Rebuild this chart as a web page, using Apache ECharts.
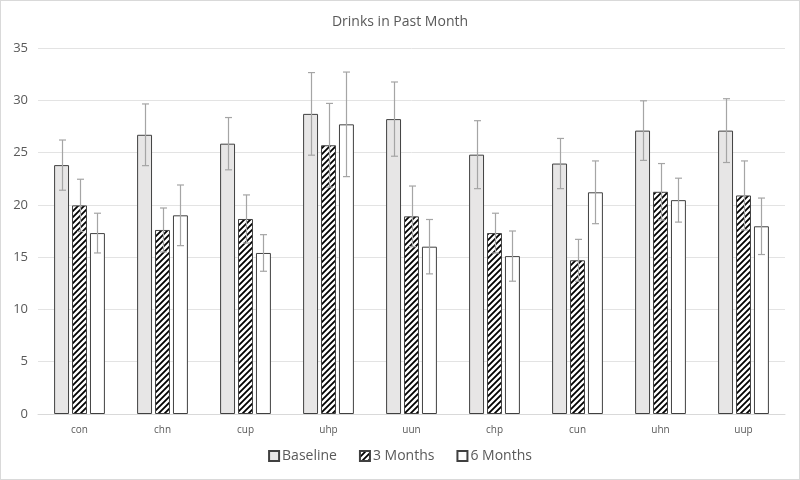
<!DOCTYPE html>
<html><head><meta charset="utf-8">
<script src="https://cdn.jsdelivr.net/npm/echarts@6/dist/echarts.min.js"></script>
<style>html,body{margin:0;padding:0;background:#fff}#c{width:800px;height:480px;box-sizing:border-box;border:1px solid #d9d9d9}</style>
</head><body><div id="c"></div>
<script>
const categories = ['con','chn','cup','uhp','uun','chp','cun','uhn','uup'];
const seriesNames = ['Baseline','3 Months','6 Months'];
const baseline = [23.8, 26.7, 25.85, 28.7, 28.2, 24.8, 23.95, 27.1, 27.1];
const baselineErr = [2.4, 2.95, 2.5, 3.95, 3.55, 3.25, 2.4, 2.85, 3.05];
const month3 = [19.95, 17.6, 18.65, 25.7, 18.9, 17.3, 14.7, 21.25, 20.9];
const month3Err = [2.5, 2.1, 2.3, 4.0, 2.9, 1.9, 2.0, 2.7, 3.3];
const month6 = [17.3, 19.0, 15.4, 27.7, 16.0, 15.1, 21.2, 20.45, 17.95];
const month6Err = [1.9, 2.9, 1.75, 5.0, 2.6, 2.4, 3.0, 2.1, 2.7];
const yTicks = [0,5,10,15,20,25,30,35];

function hatch(){
  const s = 6, c = document.createElement('canvas');
  c.width = s; c.height = s;
  const g = c.getContext('2d');
  g.fillStyle = '#fff'; g.fillRect(0,0,s,s);
  g.strokeStyle = '#000'; g.lineWidth = 1.8;
  g.beginPath();
  g.moveTo(0,s); g.lineTo(s,0);
  g.moveTo(-s/2,s/2); g.lineTo(s/2,-s/2);
  g.moveTo(s/2,s*1.5); g.lineTo(s*1.5,s/2);
  g.stroke();
  return c;
}

const font = 'Open Sans, sans-serif';
const barW = 0.18;
const offsets = [-1.2*barW, 0, 1.2*barW];
const vals = [baseline, month3, month6];
const errs = [baselineErr, month3Err, month6Err];
const fills = ['#e7e6e6', {image: hatch(), repeat: 'repeat'}, '#ffffff'];

const series = [];
vals.forEach((v,k)=>{
  series.push({
    name: seriesNames[k], type: 'bar', data: v,
    barWidth: (barW*100)+'%', barGap: '20%',
    itemStyle: {color: fills[k], borderColor: '#404040', borderWidth: 1},
    z: 2
  });
});
vals.forEach((v,k)=>{
  series.push({
    name: 'err'+k, type: 'custom', z: 5,
    data: v.map((y,i)=>[i, y-errs[k][i], y+errs[k][i]]),
    renderItem: function(params, api){
      const band = api.size([1,0])[0];
      const off = offsets[k]*band;
      const p1 = api.coord([api.value(0), api.value(2)]);
      const p2 = api.coord([api.value(0), api.value(1)]);
      const cx = Math.round(p1[0]+off)+0.5, cap = 3.5;
      const st = {stroke:'#a5a5a5', lineWidth:1.2};
      return {type:'group', children:[
        {type:'line', shape:{x1:cx,y1:p1[1],x2:cx,y2:p2[1]}, style:st},
        {type:'line', shape:{x1:cx-cap,y1:p1[1],x2:cx+cap,y2:p1[1]}, style:st},
        {type:'line', shape:{x1:cx-cap,y1:p2[1],x2:cx+cap,y2:p2[1]}, style:st}
      ]};
    }
  });
});

const chart = echarts.init(document.getElementById('c'), null, {renderer:'canvas'});
chart.setOption({
  animation: false,
  title: {text: 'Drinks in Past Month', left: 'center', top: 9,
    textStyle: {fontFamily: font, fontSize: 14, fontWeight: 'normal', color: '#595959'}},
  legend: {data: seriesNames, bottom: 11, left: 'center', itemWidth: 10, itemHeight: 10, itemGap: 22,
    icon: 'rect',
    textStyle: {fontFamily: font, fontSize: 14, color: '#595959', padding:[0,0,0,-2]}},
  grid: {left: 37, right: 14, top: 47, bottom: 65},
  xAxis: {type: 'category', data: categories,
    axisLine: {lineStyle: {color: '#d9d9d9'}}, axisTick: {show: false},
    axisLabel: {fontFamily: font, fontSize: 10, color: '#595959', margin: 11}},
  yAxis: {type: 'value', min: 0, max: 35, interval: 5,
    axisLine: {show: false}, axisTick: {show: false},
    splitLine: {lineStyle: {color: '#e3e3e3'}},
    axisLabel: {fontFamily: font, fontSize: 13, color: '#595959', margin: 10,
      formatter: v => yTicks.includes(v) ? String(v) : ''}},
  series: series
});
</script></body></html>
